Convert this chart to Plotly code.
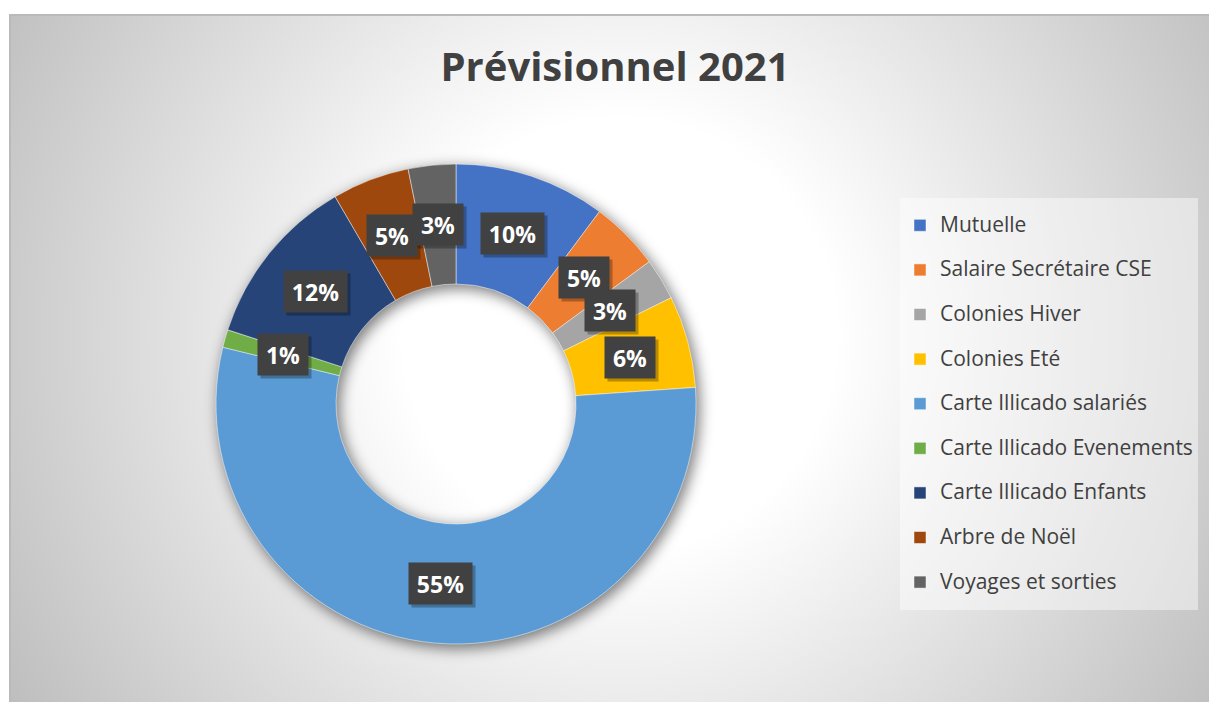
import math
import base64
import plotly.graph_objects as go

# ---------------- data ----------------
labels = ["Mutuelle", "Salaire Secrétaire CSE", "Colonies Hiver", "Colonies Eté",
          "Carte Illicado salariés", "Carte Illicado Evenements",
          "Carte Illicado Enfants", "Arbre de Noël", "Voyages et sorties"]
values = [10.2, 4.7, 2.8, 6.2, 54.9, 1.2, 11.6, 5.2, 3.2]
colors = ["#4472C4", "#ED7D31", "#A5A5A5", "#FFC000", "#5B9BD5",
          "#70AD47", "#264478", "#9E480E", "#636363"]
title_text = "Prévisionnel 2021"

# ---------------- geometry ----------------
W, H = 1209, 702
CX, CY, R = 456, 404, 240
HOLE = 0.5
FONT = "Open Sans"
TXT = "#404040"

bg_svg = f"""<svg xmlns='http://www.w3.org/2000/svg' width='{W}' height='{H}' viewBox='0 0 {W} {H}' preserveAspectRatio='none'>
<defs>
<radialGradient id='g' gradientUnits='userSpaceOnUse' cx='620' cy='335' r='720'>
<stop offset='0' stop-color='#ffffff'/>
<stop offset='0.3' stop-color='#ffffff'/>
<stop offset='1' stop-color='#bdbdbd'/>
</radialGradient>
<filter id='b' x='-50%' y='-50%' width='200%' height='200%'><feGaussianBlur stdDeviation='7'/></filter>
</defs>
<rect width='{W}' height='{H}' fill='#ffffff'/>
<rect x='9' y='14' width='{W-9}' height='{H-14}' fill='url(#g)'/>
<path d='M10,{H} V15 H{W}' fill='none' stroke='#bababa' stroke-width='2'/>
<circle cx='{CX+3}' cy='{CY+4}' r='{R*(1+HOLE)/2}' fill='none' stroke='rgba(0,0,0,0.5)' stroke-width='{R*(1-HOLE)+2}' filter='url(#b)'/>
</svg>"""
bg_uri = "data:image/svg+xml;base64," + base64.b64encode(bg_svg.encode("utf-8")).decode("ascii")

legend_labels = [f"<span style='font-size:21px;baseline-shift:6px'>{l}</span>" for l in labels]

fig = go.Figure(go.Pie(
    labels=legend_labels, values=values, hole=HOLE, sort=False,
    direction="clockwise", rotation=0,
    marker=dict(colors=colors, line=dict(color="rgba(255,255,255,0.6)", width=0.8)),
    textinfo="none", hoverinfo="skip",
    domain=dict(x=[(CX - R) / W, (CX + R) / W], y=[1 - (CY + R) / H, 1 - (CY - R) / H]),
))

# ---------------- data labels (boxes) ----------------
total = sum(values)
cum = 0.0
rmid = R * (1 + HOLE) / 2
annotations = []
shadows = []
for v in values:
    mid = (cum + v / 2) / total
    cum += v
    ang = 2 * math.pi * mid
    px = CX + rmid * math.sin(ang)
    py = CY - rmid * math.cos(ang)
    txt = f"{round(v / total * 100)}%"
    bw = 24 + 13 * len(txt)
    common = dict(x=px / W, y=1 - py / H, xref="paper", yref="paper",
                  showarrow=False, width=bw, height=41, borderpad=0,
                  xanchor="center", yanchor="middle")
    shadows.append(dict(text=" ", bgcolor="rgba(0,0,0,0.28)", xshift=3, yshift=-3, **common))
    annotations.append(dict(text=f"<b>{txt}</b>", bgcolor="#414141",
                            font=dict(family=FONT, size=23, color="white"), **common))

fig.update_layout(
    width=W, height=H,
    margin=dict(l=0, r=0, t=0, b=0),
    paper_bgcolor="white", plot_bgcolor="white",
    images=[dict(source=bg_uri, xref="paper", yref="paper", x=0, y=1,
                 sizex=1, sizey=1, xanchor="left", yanchor="top",
                 sizing="stretch", layer="below")],
    title=dict(text=f"<b>{title_text}</b>", x=615 / W, y=1 - 67 / H,
               xanchor="center", yanchor="middle",
               font=dict(family=FONT, size=40, color=TXT)),
    showlegend=True,
    legend=dict(x=900 / W, y=1 - 198 / H, xanchor="left", yanchor="top",
                bgcolor="rgba(255,255,255,0.45)", borderwidth=0,
                font=dict(family=FONT, size=32, color=TXT),
                traceorder="normal"),
    annotations=shadows + annotations,
)

fig.write_html("out.html", config={"displayModeBar": False},
               post_script="document.body.style.margin='0';document.body.style.overflow='hidden';")
